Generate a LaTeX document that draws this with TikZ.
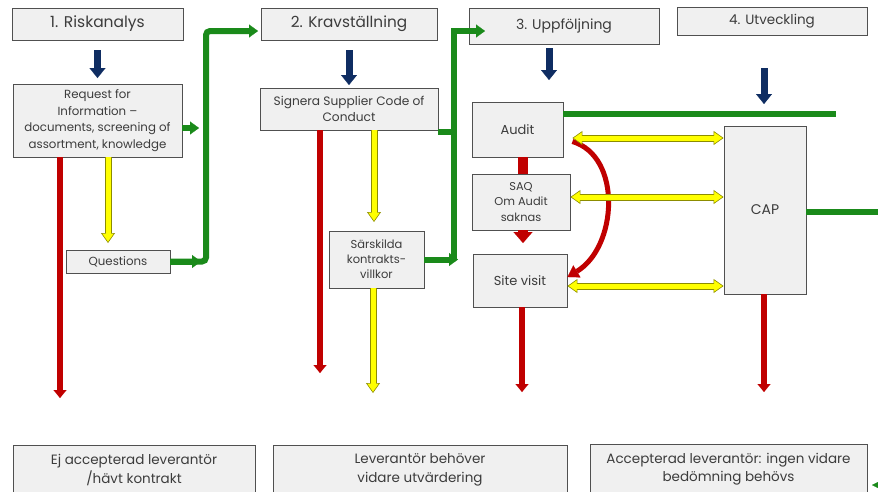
\documentclass[tikz,border=0pt]{standalone}
\usepackage{fontspec}
\setmainfont{Poppins}
\usetikzlibrary{positioning, arrows.meta}
\definecolor{boxfill}{HTML}{F0F0F0}
\definecolor{boxline}{HTML}{505050}
\definecolor{txt}{HTML}{3C3C3C}
\definecolor{redarr}{HTML}{C00000}
\definecolor{greenarr}{HTML}{1A8A1A}
\definecolor{bluearr}{HTML}{0F2D62}
\definecolor{yelarr}{HTML}{FFFF00}
\definecolor{yeledge}{HTML}{8C8C00}
\tikzset{
    x=1pt, y=-1pt, % one unit is one pixel, y grows downwards
    box/.style={draw=boxline, fill=boxfill, line width=0.9pt, text=txt, align=center, inner sep=1pt}, % every grey box
    stage/.style={box, font=\fontsize{#1}{18}\selectfont}, % the four headings
    small/.style={box, font=\fontsize{11.8}{16.7}\selectfont}, % boxes with running text
    mid/.style={box, font=\fontsize{13}{15.5}\selectfont}, % the follow-up boxes
    result/.style={box, font=\fontsize{13.5}{18.5}\selectfont, minimum height=50pt}, % the three outcomes, cut at the bottom
    rtip/.tip={Triangle[width=13pt, length=8pt, line width=0.1pt]},
    btip/.tip={Triangle[width=16pt, length=10pt, line width=0.1pt]},
    gtip/.tip={Triangle[width=13pt, length=9pt, line width=0.1pt]},
    ytip/.tip={Triangle[width=14pt, length=10pt, line width=0.6pt, fill=yelarr]},
    rarr/.style={draw=redarr, line width=6pt, -{rtip}}, % red: not accepted
    barr/.style={draw=bluearr, line width=7pt, -{btip}}, % blue: next step
    garr/.style={draw=greenarr, line width=6pt, -{gtip}}, % green: passed
    gline/.style={draw=greenarr, line width=6pt}, % green without head
    yarr/.style={draw=yeledge, line width=7pt, -{ytip}, postaction={draw=yelarr, line width=5pt, -, shorten >=9pt}}, % yellow: needs more
    yyarr/.style={draw=yeledge, line width=7pt, {ytip}-{ytip}, postaction={draw=yelarr, line width=5pt, -, shorten <=9pt, shorten >=9pt}},
}
\begin{document}
\begin{tikzpicture}
\useasboundingbox (0,0) rectangle (878,491);
\node[stage=15.5, minimum width=171pt, minimum height=32pt] (s1) at (97.5,24) {1. Riskanalys};
\node[stage=15.3, minimum width=176pt, minimum height=32pt] (s2) at (349,24) {2. Kravställning};
\node[stage=14, minimum width=190pt, minimum height=36pt] (s3) at (564,26) {\raisebox{2pt}{3. Uppföljning}};
\node[stage=13.5, minimum width=190pt, minimum height=28pt] (s4) at (772,21) {4. Utveckling};
\node[small, minimum width=169pt, minimum height=73pt] (r1) at (97.5,120.5) {Request for\\Information –\\documents, screening of\\assortment, knowledge};
\node[small, minimum width=104pt, minimum height=23pt] (r2) at (118,261.5) {Questions};
\node[small, minimum width=178pt, minimum height=42pt, font=\fontsize{12.2}{16.7}\selectfont] (k1) at (349,109) {Signera Supplier Code of\\Conduct};
\node[small, minimum width=95pt, minimum height=57pt, font=\fontsize{11.5}{15}\selectfont] (k2) at (376.5,259.5) {Särskilda\\kontrakts-\\villkor};
\node[mid, minimum width=91pt, minimum height=55pt] (u1) at (517.5,129.5) {Audit};
\node[small, minimum width=98pt, minimum height=56pt, font=\fontsize{11.4}{15.5}\selectfont] (u2) at (521,202) {SAQ\\Om Audit\\saknas};
\node[mid, minimum width=94pt, minimum height=53pt] (u3) at (520,280.5) {Site visit};
\node[stage=14, minimum width=82pt, minimum height=168pt] (cap) at (765,210) {CAP};
\node[result, minimum width=242pt] (e1) at (134,470) {Ej accepterad leverantör\\/hävt kontrakt};
\node[result, minimum width=294pt] (e2) at (420,470) {Leverantör behöver\\vidare utvärdering};
\node[result, minimum width=277pt] (e3) at (728.5,469) {Accepterad leverantör: ingen vidare\\bedömning behövs};
\coordinate (d1) at (97.5,78);
\coordinate (d2) at (349,85);
\coordinate (d3) at (549,80);
\coordinate (d4) at (764,104);
\draw[barr, shorten <=10pt] (s1.south) -- (d1);
\draw[barr, shorten <=10pt] (s2.south) -- (d2);
\draw[barr, shorten <=4pt] (d3 |- s3.south) -- (d3);
\draw[barr, shorten <=33pt] (d4 |- s4.south) -- (d4);
\coordinate (t1) at (199,128);
\coordinate (t2) at (201,261.5);
\coordinate (t3) at (258,31);
\coordinate (t4) at (206,31);
\coordinate (t5) at (458,0);
\coordinate (t6) at (454,0);
\coordinate (t7) at (485,31);
\coordinate (t8) at (454,132);
\coordinate (t9) at (836,114);
\coordinate (t10) at (878,212);
\coordinate (t11) at (882,485);
\coordinate (t12) at (872,485);
\draw[garr] (r1.east |- t1) -- (t1);
\draw[garr, rounded corners=4pt] (r2.east) -- (r2.east -| t4) |- (t3);
\draw[garr] (r2.east) -- (t2);
\draw[gline] (k1.east |- t8) -- (t8);
\draw[garr] (k2.east -| t6) |- (t7);
\draw[garr] (k2.east) -- (k2.east -| t5);
\draw[gline] (u1.east |- t9) -- (t9);
\draw[gline] (cap.east |- t10) -- (t10);
\draw[garr, line width=2pt, -{Triangle[width=6pt, length=6pt, line width=0.1pt]}] (t11) -- (t12);
\coordinate (x1) at (60,398);
\coordinate (x2) at (320,373);
\coordinate (x3) at (522,392);
\coordinate (x4) at (764,392);
\coordinate (x5) at (523,243);
\draw[rarr] (x1 |- r1.south) -- (x1);
\draw[rarr] (x2 |- k1.south) -- (x2);
\draw[rarr] (x3 |- u3.south) -- (x3);
\draw[rarr] (x4 |- cap.south) -- (x4);
\draw[draw=redarr, line width=10pt] (x5 |- u1.south) -- (x5 |- u2.north);
\draw[rarr, line width=10pt, -{Triangle[width=19pt, length=11pt, line width=0.1pt]}] (x5 |- u2.south) -- (x5);
\draw[rarr, line width=5pt, -{Triangle[width=14pt, length=11pt, line width=0.1pt]}] ([shift={(9,12)}]u1.east) .. controls +(50,15) and +(50,-30) .. ([yshift=3.5pt]u3.east);
\coordinate (y1) at (108,243);
\coordinate (y2) at (374,222);
\coordinate (y3) at (373,393);
\draw[yarr] (y1 |- r1.south) -- (y1);
\draw[yarr] (y2 |- k1.south) -- (y2);
\draw[yarr] (y3 |- k2.south) -- (y3);
\draw[yyarr] ([shift={(9,8.5)}]u1.east) -- ([yshift=72pt]cap.west);
\draw[yyarr] ([yshift=5pt]u2.east) -- ([yshift=13pt]cap.west);
\draw[yyarr] ([yshift=-5.5pt]u3.east) -- ([yshift=-76pt]cap.west);
\end{tikzpicture}
\end{document}
